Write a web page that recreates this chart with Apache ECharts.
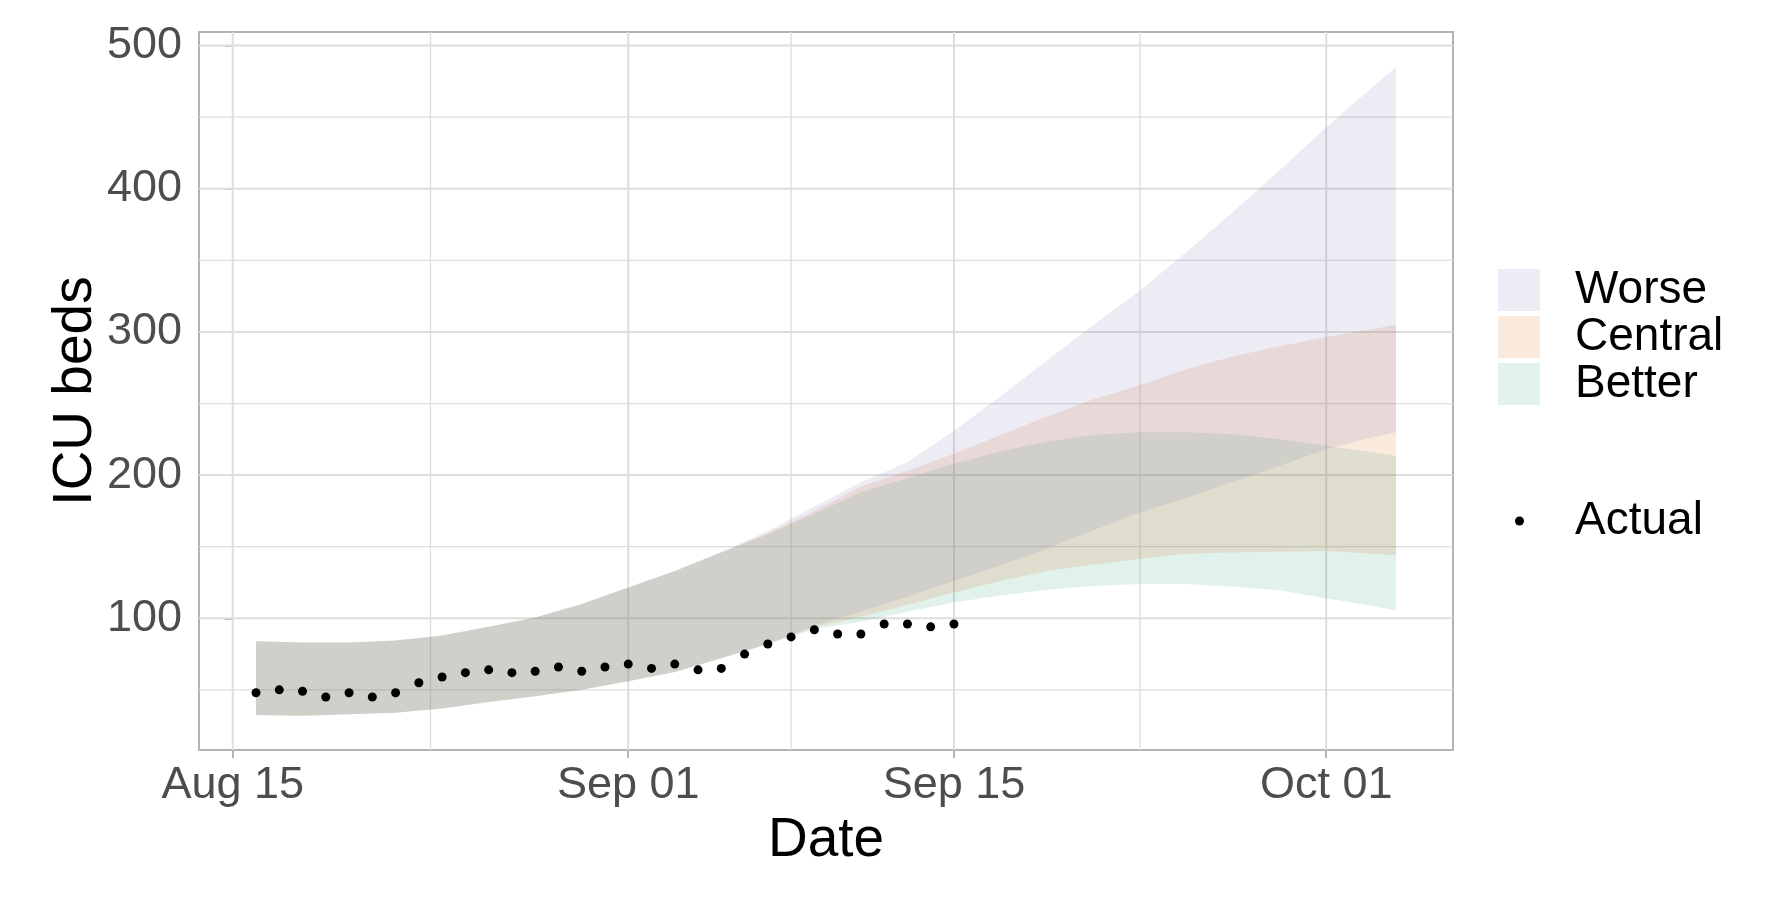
<!doctype html>
<html>
<head>
<meta charset="utf-8"/>
<title>ICU beds</title>
<script src="https://cdn.jsdelivr.net/npm/echarts@6/dist/echarts.min.js"></script>
<style>
    html, body { margin: 0; padding: 0; background: #fff; }
    #main { width: 1766px; height: 898px; }
</style>
</head>
<body>
<div id="main"></div>
<script>
    // x values are days counted from Aug 15
    const tickDays = [0, 17, 31, 47];
    const tickLabels = ["Aug 15", "Sep 01", "Sep 15", "Oct 01"];
    const minorDays = [8.5, 24, 39];
    const yTicks = [100, 200, 300, 400, 500];
    const yMinor = [50, 150, 250, 350, 450];

    // observed ICU beds, Aug 16 .. Sep 15
    const actualDays = [1, 2, 3, 4, 5, 6, 7, 8, 9, 10, 11, 12, 13, 14, 15, 16,
        17, 18, 19, 20, 21, 22, 23, 24, 25, 26, 27, 28, 29, 30, 31];
    const actualBeds = [48, 50, 49, 45, 48, 45, 48, 55, 59, 62, 64, 62, 63, 66, 63, 66,
        68, 65, 68, 64, 65, 75, 82, 87, 92, 89, 89, 96, 96, 94, 96];

    // projection ribbons
    const bandDays = [1, 3, 5, 7, 9, 11, 13, 15, 17, 19, 21, 23, 25, 27, 29, 31,
        33, 35, 37, 39, 41, 43, 45, 47, 49, 50];
    const worseHigh = [84, 83, 83, 84.5, 88, 94, 100.5, 110, 121.5, 133, 146.5, 161, 178, 195, 209, 231,
        255, 280, 305, 329, 356, 384, 413, 443, 471, 485];
    const worseLow = [32.5, 32, 33, 34, 37, 41.5, 45.5, 50, 56, 62.5, 72, 82, 95, 104.5, 115, 126,
        137, 148.5, 161.5, 174, 184, 195.5, 206.5, 218, 226.5, 230];
    const centralHigh = [84, 83, 83, 84.5, 88, 94, 100.5, 110, 121.5, 133, 146, 159.5, 175, 192, 203, 215,
        228, 241, 253, 263, 274, 283, 290, 296.5, 302, 305];
    const centralLow = [32.5, 32, 33, 34, 37, 41.5, 45.5, 50, 56, 62.5, 72, 82, 93.5, 101, 109.5, 118,
        126, 133, 137.5, 141.5, 145, 146, 146.5, 147, 145, 144];
    const betterHigh = [84, 83, 83, 84.5, 88, 94, 100.5, 110, 121.5, 133, 146, 158.5, 173, 188, 198, 208,
        216.5, 223.5, 228, 230, 230, 228.5, 225, 220.5, 216, 213.5];
    const betterLow = [32.5, 32, 33, 34, 37, 41.5, 45.5, 50, 56, 62.5, 72, 82, 92.5, 97.5, 104.5, 111,
        116, 120, 122.5, 124, 124, 122, 119.5, 114, 108.5, 105.5];

    const xMin = -1.45, xMax = 52.45, yMin = 8, yMax = 509.5;
    const font = "Liberation Sans, Arial, sans-serif";
    const worseFill = "rgba(117,112,179,0.13)";
    const centralFill = "rgba(217,95,2,0.13)";
    const betterFill = "rgba(27,158,119,0.13)";

    function band(name, low, high, fill) {
        return {
            name: name,
            type: "custom",
            z: 2,
            silent: true,
            itemStyle: {color: fill},
            data: [[bandDays[0], low[0]]],
            renderItem: function (params, api) {
                let pts = [];
                for (let i = 0; i < bandDays.length; i++) {
                    pts.push(api.coord([bandDays[i], high[i]]));
                }
                for (let i = bandDays.length - 1; i >= 0; i--) {
                    pts.push(api.coord([bandDays[i], low[i]]));
                }
                return {type: "polygon", shape: {points: pts}, style: {fill: fill}};
            }
        };
    }

    function gridLines(params, api) {
        let kids = [];
        function seg(a, b, w) {
            kids.push({
                type: "line",
                shape: {x1: a[0], y1: a[1], x2: b[0], y2: b[1]},
                style: {stroke: "#DEDEDE", lineWidth: w}
            });
        }
        yMinor.forEach(v => seg(api.coord([xMin, v]), api.coord([xMax, v]), 1.3));
        minorDays.forEach(d => seg(api.coord([d, yMin]), api.coord([d, yMax]), 1.3));
        yTicks.forEach(v => seg(api.coord([xMin, v]), api.coord([xMax, v]), 2));
        tickDays.forEach(d => seg(api.coord([d, yMin]), api.coord([d, yMax]), 2));
        return {type: "group", children: kids};
    }

    const chart = echarts.init(document.getElementById("main"));

    const option = {
        animation: false,
        backgroundColor: "#fff",
        grid: {
            left: 199, right: 313, top: 32, bottom: 148,
            show: true, borderColor: "#B3B3B3", borderWidth: 2,
            backgroundColor: "#fff",
            containLabel: false, outerBoundsMode: "none"
        },
        xAxis: {
            type: "value",
            min: xMin, max: xMax,
            splitLine: {show: false},
            axisLine: {show: false},
            axisTick: {show: true, customValues: tickDays, length: 8, lineStyle: {color: "#B3B3B3", width: 2}},
            axisLabel: {
                customValues: tickDays,
                formatter: v => tickLabels[tickDays.indexOf(v)],
                fontSize: 45, color: "#4D4D4D", fontFamily: font, margin: 13
            },
            name: "Date",
            nameLocation: "middle",
            nameGap: 62,
            nameTextStyle: {fontSize: 55, color: "#000", fontFamily: font, verticalAlign: "top"}
        },
        yAxis: {
            type: "value",
            min: yMin, max: yMax,
            splitLine: {show: false},
            axisLine: {show: false},
            axisTick: {show: true, customValues: yTicks, length: 8, lineStyle: {color: "#B3B3B3", width: 2}},
            axisLabel: {
                customValues: yTicks,
                fontSize: 45, color: "#4D4D4D", fontFamily: font, margin: 17
            },
            name: "ICU beds",
            nameLocation: "middle",
            nameRotate: 90,
            nameGap: 96,
            nameMoveOverlap: false,
            nameTextStyle: {fontSize: 55, color: "#000", fontFamily: font}
        },
        legend: [
            {
                data: [
                    {name: "Worse", itemStyle: {color: worseFill, borderWidth: 0}},
                    {name: "Central", itemStyle: {color: centralFill, borderWidth: 0}},
                    {name: "Better", itemStyle: {color: betterFill, borderWidth: 0}}
                ],
                orient: "vertical",
                left: 1498, top: 267,
                padding: 0,
                icon: "rect",
                itemWidth: 42, itemHeight: 42, itemGap: 1,
                selectedMode: false,
                textStyle: {fontSize: 46, color: "#000", fontFamily: font, lineHeight: 42, padding: [0, 0, 0, 30]}
            },
            {
                data: [{name: "Actual", itemStyle: {color: "#000", opacity: 1, borderWidth: 0}}],
                orient: "vertical",
                left: 1515, top: 498,
                padding: 0,
                icon: "circle",
                itemWidth: 9, itemHeight: 9,
                selectedMode: false,
                textStyle: {fontSize: 46, color: "#000", fontFamily: font, lineHeight: 42, padding: [0, 0, 0, 46]}
            }
        ],
        series: [
            {
                name: "grid",
                type: "custom",
                z: 1,
                silent: true,
                data: [[0, 100]],
                renderItem: gridLines
            },
            band("Better", betterLow, betterHigh, betterFill),
            band("Central", centralLow, centralHigh, centralFill),
            band("Worse", worseLow, worseHigh, worseFill),
            {
                name: "Actual",
                type: "scatter",
                z: 3,
                symbol: "circle",
                symbolSize: 9,
                itemStyle: {color: "#000", opacity: 1},
                data: actualDays.map((d, i) => [d, actualBeds[i]])
            }
        ]
    };
    chart.setOption(option);

    window.onresize = function () {
        chart.resize();
    };
</script>
</body>
</html>
